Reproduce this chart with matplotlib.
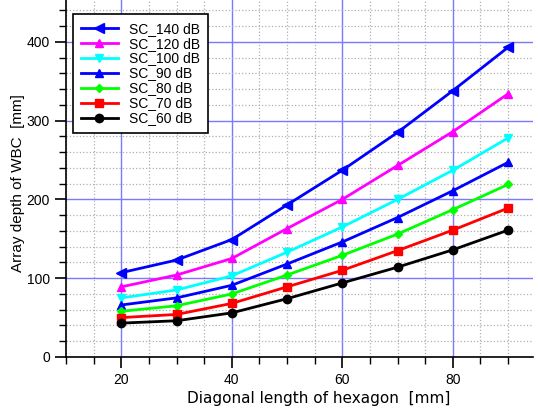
import matplotlib
matplotlib.use("Agg")
import matplotlib.pyplot as plt
from matplotlib.ticker import MultipleLocator

plt.rcParams['font.family'] = ['Liberation Sans', 'DejaVu Sans']

# Diagonal length of hexagon [mm]
length = [20, 30, 40, 50, 60, 70, 80, 90]

# Array depth of WBC [mm]
sc_140 = [107, 123, 149, 193, 237, 285, 338, 393]
sc_120 = [89, 104, 125, 163, 200, 243, 286, 334]
sc_100 = [75, 85, 103, 133, 165, 200, 237, 278]
sc_90 = [66, 75, 91, 118, 146, 177, 211, 247]
sc_80 = [58, 65, 80, 104, 129, 156, 187, 219]
sc_70 = [50, 54, 68, 89, 110, 135, 161, 189]
sc_60 = [43, 46, 56, 74, 94, 114, 136, 161]

series = [
    ("SC_140 dB", sc_140, "#0000ff", "<", 7),
    ("SC_120 dB", sc_120, "#ff00ff", "^", 6),
    ("SC_100 dB", sc_100, "#00ffff", "v", 6),
    ("SC_90 dB", sc_90, "#0000ff", "^", 6),
    ("SC_80 dB", sc_80, "#00ff00", "D", 4),
    ("SC_70 dB", sc_70, "#ff0000", "s", 6),
    ("SC_60 dB", sc_60, "#000000", "o", 6),
]

fig = plt.figure(figsize=(5.38, 4.12), dpi=100)
ax = fig.add_axes([66 / 538, 55 / 412, 467 / 538, 357 / 412])

for name, vals, color, marker, ms in series:
    ax.plot(length, vals, color=color, marker=marker, markersize=ms,
            linewidth=2, label=name)

ax.set_xlim(10, 94.5)
ax.set_ylim(0, 453)
ax.xaxis.set_major_locator(MultipleLocator(20))
ax.xaxis.set_minor_locator(MultipleLocator(5))
ax.yaxis.set_major_locator(MultipleLocator(100))
ax.yaxis.set_minor_locator(MultipleLocator(20))

ax.grid(which='minor', color='#b0b0b0', linestyle=':', linewidth=0.9)
ax.grid(which='major', color='#7a7aff', linestyle='-', linewidth=1)
ax.set_axisbelow(True)

for s in ['top', 'right']:
    ax.spines[s].set_visible(False)
ax.spines['left'].set_linewidth(1.2)
ax.spines['bottom'].set_linewidth(1.2)
ax.tick_params(which='major', direction='out', length=8, width=1.2, labelsize=10)
ax.tick_params(which='minor', direction='out', length=5, width=1.0)

ax.set_xlabel("Diagonal length of hexagon  [mm]", fontsize=11,
              family=['DejaVu Sans'], labelpad=3)
ax.xaxis.label.set_x(0.542)
ax.set_ylabel("Array depth of WBC  [mm]", fontsize=11, labelpad=1)
ax.yaxis.label.set_y(0.487)

leg = ax.legend(loc='upper left', bbox_to_anchor=(0.015, 0.961), fontsize=10,
                fancybox=False, framealpha=1, edgecolor='black',
                handlelength=2.7, labelspacing=0.07, borderpad=0.55,
                handletextpad=0.8, borderaxespad=0)
leg.get_frame().set_linewidth(1.2)

fig.savefig("out.png", dpi=100)
